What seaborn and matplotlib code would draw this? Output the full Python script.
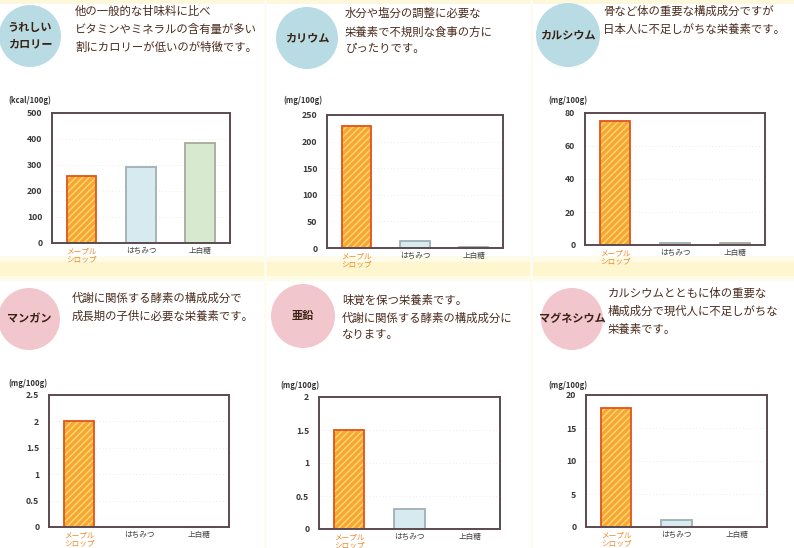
import matplotlib
matplotlib.use("Agg")
import matplotlib.pyplot as plt
import seaborn as sns
import pandas as pd
from matplotlib.patches import Circle

sns.set_theme(style="white")
plt.rcParams['font.family'] = ['Noto Sans CJK JP', 'DejaVu Sans']
plt.rcParams['hatch.linewidth'] = 1.1

# ---------------- data ----------------
categories = ["メープル\nシロップ", "はちみつ", "上白糖"]
calorie = [257, 294, 384]
potassium = [230, 13, 2]
calcium = [75, 1, 1]
manganese = [2.0, 0, 0]
zinc = [1.5, 0.3, 0]
magnesium = [18, 1, 0]

titles = ["うれしい\nカロリー", "カリウム", "カルシウム", "マンガン", "亜鉛", "マグネシウム"]
descriptions = [
    "他の一般的な甘味料に比べ\nビタミンやミネラルの含有量が多い\n割にカロリーが低いのが特徴です。",
    "水分や塩分の調整に必要な\n栄養素で不規則な食事の方に\nぴったりです。",
    "骨など体の重要な構成成分ですが\n日本人に不足しがちな栄養素です。",
    "代謝に関係する酵素の構成成分で\n成長期の子供に必要な栄養素です。",
    "味覚を保つ栄養素です。\n代謝に関係する酵素の構成成分に\nなります。",
    "カルシウムとともに体の重要な\n構成成分で現代人に不足しがちな\n栄養素です。",
]
units = ["(kcal/100g)", "(mg/100g)", "(mg/100g)", "(mg/100g)", "(mg/100g)", "(mg/100g)"]
yticks = [
    [0, 100, 200, 300, 400, 500],
    [0, 50, 100, 150, 200, 250],
    [0, 20, 40, 60, 80],
    [0, 0.5, 1, 1.5, 2, 2.5],
    [0, 0.5, 1, 1.5, 2],
    [0, 5, 10, 15, 20],
]
ytick_labels = [
    ["0", "100", "200", "300", "400", "500"],
    ["0", "50", "100", "150", "200", "250"],
    ["0", "20", "40", "60", "80"],
    ["0", "0.5", "1", "1.5", "2", "2.5"],
    ["0", "0.5", "1", "1.5", "2"],
    ["0", "5", "10", "15", "20"],
]
values = [calorie, potassium, calcium, manganese, zinc, magnesium]

# ---------------- styles ----------------
fills = ["#f7a43a", "#d6eaf0", "#d7e9cf"]
hatch_col = "#ffd95e"
edges = ["#e2541c", "#9fb0b2", "#a3ac9c"]
spine_col = "#5c4a52"
text_col = "#4a2c1e"
circle_cols = ["#b8dbe4"] * 3 + ["#f2c6cd"] * 3

W, H = 794, 548
fig = plt.figure(figsize=(W / 100, H / 100), dpi=100)
fig.patch.set_facecolor("white")

# background layer in pixel coordinates
bg = fig.add_axes([0, 0, 1, 1])
bg.set_xlim(0, W)
bg.set_ylim(H, 0)
bg.axis("off")
for xv in (265, 531):
    bg.axvline(xv, color="#fefcf2", lw=2)
bg.axhspan(256, 262, color="#fefbe8", lw=0)
bg.axhspan(262, 276, color="#fdf6cf", lw=0)
bg.axhspan(276, 281, color="#fefbe8", lw=0)
bg.axhspan(0, 4, color="#fdf8dc", lw=0)

axes_px = [
    (52, 113, 230, 243),
    (327, 115, 503, 248),
    (585, 113, 765, 245),
    (49, 395, 229, 527),
    (319, 397, 500, 529),
    (586, 395, 767, 527),
]
circles_px = [
    (30, 36, 31), (307, 38, 31), (568, 35, 32),
    (29, 319, 31), (303, 316, 32), (572, 319, 31),
]
desc_px = [(75, 6), (345, 8), (603, 6), (72, 293), (342, 295), (608, 288)]
unit_px = [(8, 100), (283, 100), (548, 100), (8, 383), (280, 385), (548, 385)]

for i in range(6):
    cx, cy, r = circles_px[i]
    bg.add_patch(Circle((cx, cy), r, color=circle_cols[i], lw=0))
    bg.text(cx, cy, titles[i], ha="center", va="center", fontsize=8,
            fontweight="bold", color="#3a2214", linespacing=1.3)
    dx, dy = desc_px[i]
    bg.text(dx, dy, descriptions[i], ha="left", va="top", fontsize=8.2,
            color=text_col, linespacing=1.75)
    ux, uy = unit_px[i]
    bg.text(ux, uy, units[i], ha="left", va="center", fontsize=5.5,
            color="#333333", fontweight="bold")

    l, t, rr, b = axes_px[i]
    ax = fig.add_axes([l / W, 1 - b / H, (rr - l) / W, (b - t) / H])
    df = pd.DataFrame({"item": categories, "value": values[i]})
    sns.barplot(data=df, x="item", y="value", hue="item", palette=fills,
                width=0.5, ax=ax, legend=False, linewidth=0.01, saturation=1)
    for j, cont in enumerate(ax.containers):
        for p in cont:
            if j == 0:
                p.set_edgecolor(hatch_col)
                p.set_hatch("/////")
            else:
                p.set_edgecolor(fills[j])
    sns.barplot(data=df, x="item", y="value", hue="item", palette=edges,
                width=0.5, ax=ax, legend=False, fill=False, linewidth=1.3,
                saturation=1)
    ax.set_ylim(yticks[i][0], yticks[i][-1])
    ax.set_xlim(-0.5, 2.5)
    ax.set_yticks(yticks[i])
    ax.set_yticklabels(ytick_labels[i])
    ax.set_xlabel("")
    ax.set_ylabel("")
    ax.set_facecolor("white")
    for yv in yticks[i][1:-1]:
        ax.axhline(yv, color="#e4e4e4", lw=0.6, ls=(0, (1, 3)), zorder=0)
    for s in ax.spines.values():
        s.set_visible(True)
        s.set_color(spine_col)
        s.set_linewidth(1.4)
    ax.tick_params(axis="y", length=0, pad=7, labelsize=6.3, labelcolor="#3a3a3a")
    ax.tick_params(axis="x", length=0, pad=3, labelsize=5.5, labelcolor="#444444")
    for lab in ax.get_yticklabels():
        lab.set_fontweight("bold")
    xl = ax.get_xticklabels()
    xl[0].set_color("#ec8a2c")
    for lab in xl:
        lab.set_linespacing(1.1)

fig.savefig("out.png", dpi=100, facecolor="white")
